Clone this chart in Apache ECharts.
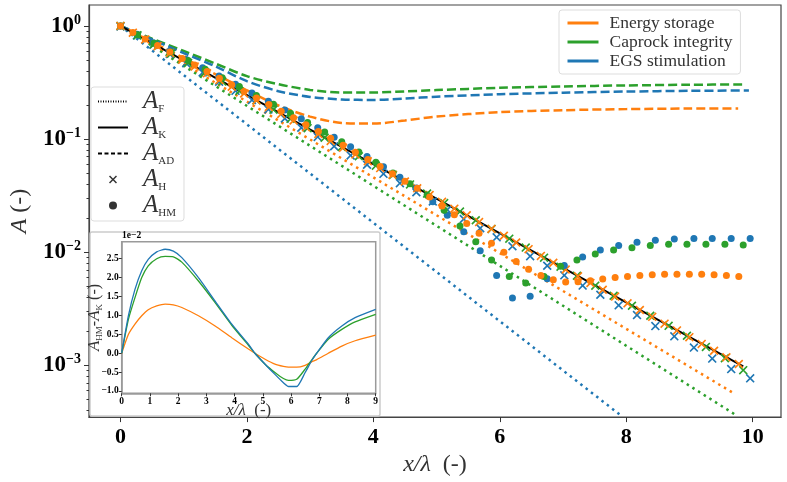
<!DOCTYPE html>
<html>
<head>
<meta charset="utf-8">
<script src="https://cdn.jsdelivr.net/npm/echarts@6/dist/echarts.min.js"></script>
<style>html,body{margin:0;padding:0;background:#fff}#main{width:787px;height:482px}</style>
</head>
<body>
<div id="main"></div>
<script>
var SERIF = '"Liberation Serif", "DejaVu Serif", serif';
var C_ORANGE = '#ff7f0e', C_GREEN = '#2ca02c', C_BLUE = '#1f77b4';

// --- main plot data (x / lambda, A) ---
var akX = [0, 9.85];
var akY = [1.0, 0.00098];

var afOrangeX = [0, 9.72], afOrangeY = [1.0, 0.00056];
var afGreenX = [0, 9.75], afGreenY = [1.0, 0.00036];
var afBlueX = [0, 7.92], afBlueY = [1.0, 0.00036];

var adOrangeX = [0, 0.5, 1, 1.5, 2, 2.5, 3, 3.5, 4, 4.5, 5, 6, 7, 8, 9, 9.77];
var adOrangeY = [1.0, 0.72, 0.52, 0.375, 0.27, 0.198, 0.158, 0.139, 0.137, 0.146, 0.158, 0.173, 0.18, 0.184, 0.186, 0.186];
var adGreenX = [0, 0.5, 1, 1.5, 2, 2.5, 3, 3.5, 4, 4.5, 5, 6, 7, 8, 9, 9.85];
var adGreenY = [1.0, 0.77, 0.6, 0.465, 0.36, 0.305, 0.272, 0.258, 0.258, 0.264, 0.271, 0.284, 0.292, 0.298, 0.302, 0.304];
var adBlueX = [0, 0.5, 1, 1.5, 2, 2.5, 3, 3.5, 4, 4.5, 5, 6, 7, 8, 9, 9.94];
var adBlueY = [1.0, 0.76, 0.575, 0.44, 0.325, 0.265, 0.236, 0.224, 0.222, 0.228, 0.237, 0.249, 0.257, 0.263, 0.267, 0.269];

var orangeX = [0, 0.196, 0.391, 0.587, 0.782, 0.978, 1.174, 1.369, 1.565, 1.76, 1.956, 2.152, 2.347, 2.543, 2.738, 2.934, 3.13, 3.325, 3.521, 3.716, 3.912, 4.108, 4.303, 4.499, 4.694, 4.89, 5.086, 5.281, 5.477, 5.672, 5.868, 6.064, 6.259, 6.455, 6.65, 6.846, 7.042, 7.237, 7.433, 7.628, 7.824, 8.02, 8.215, 8.411, 8.606, 8.802, 8.998, 9.193, 9.389, 9.584, 9.78];
var orangeH = [1.0, 0.871, 0.760, 0.662, 0.577, 0.503, 0.438, 0.382, 0.332, 0.290, 0.253, 0.220, 0.192, 0.167, 0.146, 0.127, 0.111, 0.0964, 0.0839, 0.0732, 0.0637, 0.0555, 0.0484, 0.0422, 0.0368, 0.0321, 0.0279, 0.0243, 0.0212, 0.0185, 0.0161, 0.0140, 0.0122, 0.01065, 0.00929, 0.00809, 0.00705, 0.00614, 0.00535, 0.00467, 0.00406, 0.00354, 0.00309, 0.00269, 0.00234, 0.00204, 0.00178, 0.00155, 0.00135, 0.00118, 0.00103];
var orangeHM = [1.0, 0.876, 0.767, 0.671, 0.588, 0.515, 0.451, 0.395, 0.345, 0.302, 0.264, 0.231, 0.202, 0.176, 0.154, 0.134, 0.117, 0.1015, 0.0882, 0.0765, 0.0662, 0.0572, 0.0493, 0.0425, 0.0368, 0.0308, 0.0257, 0.0215, 0.0180, 0.0147, 0.0120, 0.0100, 0.00828, 0.0071, 0.00625, 0.00572, 0.00546, 0.0055, 0.0056, 0.0058, 0.0060, 0.00612, 0.00625, 0.00632, 0.00641, 0.00641, 0.00641, 0.00641, 0.00632, 0.00625, 0.00612];

var greenX = [0, 0.27, 0.53, 0.80, 1.07, 1.34, 1.61, 1.88, 2.15, 2.42, 2.69, 2.96, 3.23, 3.50, 3.77, 4.04, 4.31, 4.58, 4.85, 5.12, 5.37, 5.62, 5.87, 6.15, 6.41, 6.70, 6.96, 7.22, 7.51, 7.80, 8.09, 8.38, 8.67, 8.96, 9.26, 9.56, 9.85];
var greenH = [1.0, 0.827, 0.689, 0.569, 0.471, 0.390, 0.322, 0.266, 0.220, 0.182, 0.151, 0.125, 0.103, 0.0852, 0.0705, 0.0583, 0.0482, 0.0398, 0.0330, 0.0272, 0.0229, 0.0192, 0.0161, 0.0132, 0.0110, 0.00896, 0.00746, 0.00622, 0.00507, 0.00413, 0.00337, 0.00275, 0.00224, 0.00183, 0.00146, 0.00116, 0.00091];
var greenHM = [1.0, 0.835, 0.704, 0.589, 0.494, 0.4145, 0.3475, 0.291, 0.243, 0.203, 0.169, 0.140, 0.1155, 0.0947, 0.077, 0.0623, 0.0502, 0.0403, 0.032, 0.0235, 0.0171, 0.0124, 0.00855, 0.00612, 0.00535, 0.00612, 0.00753, 0.00855, 0.00966, 0.01047, 0.01099, 0.01146, 0.01175, 0.01175, 0.01175, 0.01175, 0.01159];

var blueX = [0, 0.26, 0.52, 0.78, 1.04, 1.30, 1.56, 1.82, 2.08, 2.34, 2.60, 2.86, 3.12, 3.38, 3.64, 3.90, 4.16, 4.42, 4.68, 4.94, 5.17, 5.43, 5.69, 5.95, 6.20, 6.48, 6.75, 7.02, 7.31, 7.59, 7.88, 8.17, 8.46, 8.76, 9.07, 9.36, 9.66, 9.96];
var blueH = [0.99, 0.823, 0.681, 0.565, 0.468, 0.388, 0.321, 0.267, 0.221, 0.183, 0.152, 0.126, 0.1045, 0.0865, 0.0718, 0.0594, 0.0493, 0.0408, 0.0339, 0.0281, 0.0238, 0.0197, 0.0163, 0.01355, 0.0113, 0.00925, 0.0076, 0.00626, 0.00508, 0.00422, 0.0034, 0.00279, 0.00223, 0.00181, 0.00144, 0.00115, 0.00093, 0.00077];
var blueHM = [1.0, 0.842, 0.710, 0.599, 0.505, 0.427, 0.361, 0.305, 0.256, 0.216, 0.181, 0.151, 0.126, 0.104, 0.0857, 0.0703, 0.057, 0.046, 0.037, 0.0279, 0.0212, 0.0152, 0.0103, 0.00625, 0.00394, 0.00408, 0.00583, 0.00764, 0.0091, 0.0105, 0.01146, 0.01225, 0.0128, 0.0131, 0.01327, 0.01327, 0.01327, 0.01327];

// --- inset data: A_HM - A_K in units of 1e-2 ---
var insetX = [0, 0.24, 0.47, 0.71, 0.94, 1.24, 1.54, 1.83, 2.13, 2.72, 3.31, 3.90, 4.49, 4.72, 5.08, 5.43, 5.73, 5.91, 6.20, 6.50, 6.73, 6.91, 7.32, 7.80, 8.27, 9.0];
var insetOrange = [0, 0.5, 0.77, 0.99, 1.15, 1.25, 1.3, 1.28, 1.21, 0.99, 0.72, 0.41, 0.11, 0, -0.16, -0.29, -0.35, -0.37, -0.37, -0.32, -0.23, -0.17, 0, 0.19, 0.33, 0.48];
var insetGreen = [0, 0.9, 1.47, 2.0, 2.31, 2.5, 2.56, 2.55, 2.41, 1.91, 1.34, 0.74, 0.21, 0, -0.29, -0.51, -0.67, -0.72, -0.69, -0.42, -0.18, 0, 0.37, 0.63, 0.83, 1.03];
var insetBlue = [0, 1.0, 1.69, 2.18, 2.48, 2.68, 2.75, 2.70, 2.53, 2.0, 1.38, 0.77, 0.24, 0, -0.29, -0.56, -0.78, -0.88, -0.88, -0.51, -0.2, 0, 0.41, 0.72, 0.94, 1.16];

// --- ticks ---
var xTicks = [0, 2, 4, 6, 8, 10];
var yTicks = [0.001, 0.01, 0.1, 1];
var yMinorTicks = [0.0004, 0.0005, 0.0006, 0.0007, 0.0008, 0.0009,
    0.002, 0.003, 0.004, 0.005, 0.006, 0.007, 0.008, 0.009,
    0.02, 0.03, 0.04, 0.05, 0.06, 0.07, 0.08, 0.09,
    0.2, 0.3, 0.4, 0.5, 0.6, 0.7, 0.8, 0.9];
var insetYTicks = [-1.0, -0.5, 0.0, 0.5, 1.0, 1.5, 2.0, 2.5];

var legendSubs = { A_F: 'F', A_K: 'K', A_AD: 'AD', A_H: 'H', A_HM: 'HM' };
var CROSS = 'path://M1.3,0L5,3.7L8.7,0L10,1.3L6.3,5L10,8.7L8.7,10L5,6.3L1.3,10L0,8.7L3.7,5L0,1.3Z';
var NO_SYMBOL = { color: 'rgba(0,0,0,0)', borderWidth: 0, opacity: 0 };

function pairs(xs, ys) {
    return xs.map(function (x, i) { return [x, ys[i]]; });
}
function dotted(name, xs, ys, color) {
    return { name: name, type: 'line', data: pairs(xs, ys), symbol: 'none', silent: true, z: 2,
        lineStyle: { color: color, width: 2.5, type: [2.5, 4.2] } };
}
function dashed(name, xs, ys, color) {
    return { name: name, type: 'line', data: pairs(xs, ys), symbol: 'none', smooth: 0.3, silent: true, z: 2,
        lineStyle: { color: color, width: 2.5, type: [9, 4] } };
}
function crosses(name, xs, ys, color) {
    return { name: name, type: 'scatter', data: pairs(xs, ys), symbol: CROSS, symbolSize: 9, silent: true, z: 4,
        itemStyle: { color: color, opacity: 1 } };
}
function dots(name, xs, ys, color) {
    return { name: name, type: 'scatter', data: pairs(xs, ys), symbol: 'circle', symbolSize: 7, silent: true, z: 4,
        itemStyle: { color: color, opacity: 1 } };
}
function insetLine(name, ys, color) {
    return { name: name, type: 'line', xAxisIndex: 1, yAxisIndex: 2, data: pairs(insetX, ys), symbol: 'none',
        smooth: 0.2, silent: true, z: 12, lineStyle: { color: color, width: 1.3 } };
}
function dummyLine(name, color, type) {
    return { name: name, type: 'line', data: [], symbol: 'none', lineStyle: { color: color, width: 3, type: type },
        itemStyle: { color: color } };
}

var myChart = echarts.init(document.getElementById('main'));

var inset0 = insetLine('inset orange', insetOrange, C_ORANGE);
inset0.markLine = { silent: true, symbol: 'none', label: { show: false },
    lineStyle: { color: '#888', width: 1, type: 'solid' }, data: [{ yAxis: 0 }] };

myChart.setOption({
    animation: false,
    backgroundColor: '#fff',
    grid: [
        { left: 87, right: 6, top: 5, bottom: 62, show: true, borderColor: '#444', borderWidth: 1.2 },
        { left: 121.7, top: 241.7, width: 254, height: 151.6, show: true, borderColor: '#9a9a9a', borderWidth: 1.5, z: 11 }
    ],
    xAxis: [{
        type: 'value', gridIndex: 0, min: -0.4975, max: 10.4475,
        axisLine: { onZero: false, lineStyle: { color: '#444', width: 1.2 } },
        axisTick: { customValues: xTicks, length: 5, lineStyle: { color: '#333' } },
        axisLabel: { customValues: xTicks, margin: 9, fontFamily: SERIF, fontWeight: 'bold', fontSize: 22, color: '#000' },
        splitLine: { show: false },
        name: '{i|x/λ}{n|  (-)}', nameLocation: 'middle', nameGap: 34,
        nameTextStyle: { rich: {
            i: { fontFamily: SERIF, fontStyle: 'italic', fontSize: 24, color: '#333' },
            n: { fontFamily: SERIF, fontSize: 24, color: '#333' } } }
    }, {
        type: 'value', gridIndex: 1, min: 0, max: 9, interval: 1, z: 12,
        axisLine: { onZero: false, lineStyle: { color: '#9a9a9a', width: 1.5 } },
        axisTick: { length: 3, lineStyle: { color: '#333' } },
        axisLabel: { margin: 3, fontFamily: SERIF, fontWeight: 'bold', fontSize: 9.5, color: '#000' },
        splitLine: { show: false },
        name: '{i|x/λ}{n|  (-)}', nameLocation: 'middle', nameGap: 9, nameMoveOverlap: false,
        nameTextStyle: { rich: {
            i: { fontFamily: SERIF, fontStyle: 'italic', fontSize: 17, color: '#333' },
            n: { fontFamily: SERIF, fontSize: 17, color: '#333' } } }
    }],
    yAxis: [{
        type: 'log', logBase: 10, gridIndex: 0, min: 0.00035, max: 1.53,
        axisLine: { show: true, onZero: false, lineStyle: { color: '#444', width: 1.2 } },
        axisTick: { customValues: yTicks, length: 5, lineStyle: { color: '#333' } },
        axisLabel: { customValues: yTicks, margin: 8,
            formatter: function (v) {
                var e = Math.round(Math.log10(v));
                return '{b|10}{e|' + (e < 0 ? '\u2212' + (-e) : e) + '}';
            },
            rich: {
                b: { fontFamily: SERIF, fontWeight: 'bold', fontSize: 23, color: '#000', lineHeight: 26 },
                e: { fontFamily: SERIF, fontWeight: 'bold', fontSize: 14, color: '#000', verticalAlign: 'top', lineHeight: 14 }
            } },
        splitLine: { show: false },
        name: '{i|A}{n| (-)}', nameLocation: 'middle', nameGap: 57, nameRotate: 90,
        nameTextStyle: { rich: {
            i: { fontFamily: SERIF, fontStyle: 'italic', fontSize: 24, color: '#333' },
            n: { fontFamily: SERIF, fontSize: 24, color: '#333' } } }
    }, {
        type: 'log', logBase: 10, gridIndex: 0, min: 0.00035, max: 1.53, position: 'left', offset: 0,
        axisLine: { show: false, onZero: false },
        axisTick: { customValues: yMinorTicks, length: 2.5, lineStyle: { color: '#333' } },
        axisLabel: { show: false },
        splitLine: { show: false }
    }, {
        type: 'value', gridIndex: 1, min: -1.06, max: 2.95, z: 12,
        axisLine: { onZero: false, lineStyle: { color: '#9a9a9a', width: 1.5 } },
        axisTick: { customValues: insetYTicks, length: 3, lineStyle: { color: '#333' } },
        axisLabel: { customValues: insetYTicks, margin: 3, fontFamily: SERIF, fontWeight: 'bold', fontSize: 9.5, color: '#000',
            formatter: function (v) { return (v < 0 ? '\u2212' : '') + Math.abs(v).toFixed(1); } },
        splitLine: { show: false },
        name: '{i|A}{s|HM}{n|-}{i|A}{s|K}{n| (-)}', nameLocation: 'middle', nameGap: 18, nameRotate: 90,
        nameMoveOverlap: false,
        nameTextStyle: { rich: {
            i: { fontFamily: SERIF, fontStyle: 'italic', fontSize: 17, color: '#333', lineHeight: 18 },
            s: { fontFamily: SERIF, fontSize: 9, color: '#333', verticalAlign: 'bottom', lineHeight: 9 },
            n: { fontFamily: SERIF, fontSize: 16, color: '#333', lineHeight: 18 } } }
    }],
    legend: [{
        data: [
            { name: 'Energy storage', itemStyle: NO_SYMBOL },
            { name: 'Caprock integrity', itemStyle: NO_SYMBOL },
            { name: 'EGS stimulation', itemStyle: NO_SYMBOL }
        ],
        orient: 'vertical', left: 559, top: 10, padding: [4, 8, 4, 7], itemGap: 1,
        itemWidth: 31, itemHeight: 10, selectedMode: false, z: 8,
        lineStyle: { width: 3 },
        backgroundColor: 'rgba(255,255,255,0.85)', borderColor: '#ddd', borderWidth: 1, borderRadius: 3,
        formatter: function (n) { return '{g|}{t|' + n + '}'; },
        textStyle: { rich: {
            g: { width: 6 },
            t: { fontFamily: SERIF, fontSize: 17.5, color: '#333', lineHeight: 20 } } }
    }, {
        data: [
            { name: 'A_F', itemStyle: NO_SYMBOL },
            { name: 'A_K', itemStyle: NO_SYMBOL },
            { name: 'A_AD', itemStyle: NO_SYMBOL },
            'A_H', 'A_HM'
        ],
        orient: 'vertical', left: 91, top: 87, padding: [2, 8, 2, 6], itemGap: 0,
        itemWidth: 30, itemHeight: 8, selectedMode: false, z: 8,
        backgroundColor: 'rgba(255,255,255,0.85)', borderColor: '#ddd', borderWidth: 1, borderRadius: 3,
        formatter: function (n) { return '{g|}{a|A}{s|' + legendSubs[n] + '}'; },
        textStyle: { rich: {
            g: { width: 10 },
            a: { fontFamily: SERIF, fontStyle: 'italic', fontSize: 25, color: '#333', lineHeight: 27 },
            s: { fontFamily: SERIF, fontSize: 11, color: '#333', verticalAlign: 'bottom', lineHeight: 11 } } }
    }],
    graphic: [
        { type: 'rect', z: 6, shape: { x: 90, y: 232, width: 290, height: 184, r: 2 },
          style: { fill: '#fff', stroke: '#ccc', lineWidth: 1.5 } },
        { type: 'text', z: 13, left: 122, top: 231,
          style: { text: '1e\u22122', font: 'bold 9.5px ' + SERIF, fill: '#000' } }
    ],
    series: [
        dotted('AF orange', afOrangeX, afOrangeY, C_ORANGE),
        dotted('AF green', afGreenX, afGreenY, C_GREEN),
        dotted('AF blue', afBlueX, afBlueY, C_BLUE),
        dashed('AD orange', adOrangeX, adOrangeY, C_ORANGE),
        dashed('AD green', adGreenX, adGreenY, C_GREEN),
        dashed('AD blue', adBlueX, adBlueY, C_BLUE),
        { name: 'A_K', type: 'line', data: pairs(akX, akY), symbol: 'none', silent: true, z: 3,
          lineStyle: { color: '#000', width: 2 }, itemStyle: { color: '#000' } },
        crosses('H blue', blueX, blueH, C_BLUE),
        crosses('H green', greenX, greenH, C_GREEN),
        crosses('H orange', orangeX, orangeH, C_ORANGE),
        dots('HM blue', blueX, blueHM, C_BLUE),
        dots('HM green', greenX, greenHM, C_GREEN),
        dots('HM orange', orangeX, orangeHM, C_ORANGE),
        dummyLine('Energy storage', C_ORANGE, 'solid'),
        dummyLine('Caprock integrity', C_GREEN, 'solid'),
        dummyLine('EGS stimulation', C_BLUE, 'solid'),
        { name: 'A_F', type: 'line', data: [], symbol: 'none', lineStyle: { color: '#000', width: 1, type: [1, 1.5] }, itemStyle: { color: '#000' } },
        { name: 'A_AD', type: 'line', data: [], symbol: 'none', lineStyle: { color: '#000', width: 1.5, type: [4, 2.5] }, itemStyle: { color: '#000' } },
        { name: 'A_H', type: 'scatter', data: [], symbol: CROSS, symbolSize: 8, itemStyle: { color: '#000' } },
        { name: 'A_HM', type: 'scatter', data: [], symbol: 'circle', symbolSize: 7, itemStyle: { color: '#000' } },
        inset0,
        insetLine('inset green', insetGreen, C_GREEN),
        insetLine('inset blue', insetBlue, C_BLUE)
    ]
});
</script>
</body>
</html>
